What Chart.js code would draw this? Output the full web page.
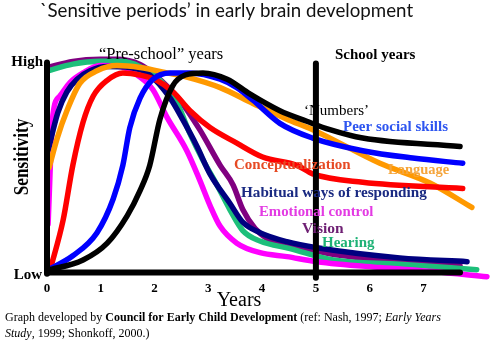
<!DOCTYPE html>
<html>
<head>
<meta charset="utf-8">
<script src="https://cdn.jsdelivr.net/npm/chart.js@4.4.0/dist/chart.umd.min.js"></script>
<style>
    html, body { margin: 0; padding: 0; background: #fff; }
    #wrap { width: 491px; height: 342px; position: relative; }
</style>
</head>
<body>
<div id="wrap"><canvas id="chart"></canvas></div>
<script>
// ===== data (years, sensitivity 0 = Low .. 100 = High) =====
const xTicks = [0, 1, 2, 3, 4, 5, 6, 7];

const numbersX = [0, 0.67, 1.12, 1.49, 1.73, 1.91, 2.1, 2.34, 2.57, 2.9, 3.35, 3.77, 4.33, 4.83, 5.26, 5.87, 7.68];
const numbersY = [1, 6, 14, 27, 39, 51, 73, 89, 94, 95, 92, 85, 77, 72, 68, 64, 60];

const peerX = [0, 0.48, 0.93, 1.23, 1.41, 1.54, 1.73, 1.97, 2.29, 2.66, 3.22, 3.53, 3.83, 4.33, 4.94, 5.87, 6.8, 7.73];
const peerY = [1, 8, 19, 35, 51, 69, 83, 92, 95, 95, 92, 88, 82, 71, 64, 58, 54.5, 52];

const languageX = [0.04, 0.19, 0.37, 0.61, 0.93, 1.3, 1.73, 2.23, 2.6, 3.22, 3.83, 4.46, 4.94, 6.19, 7.12, 7.9];
const languageY = [50, 64, 77, 90, 96, 98.5, 97.6, 95, 93, 88, 80.5, 73, 68, 52, 42.6, 31];

const conceptX = [0.05, 0.3, 0.48, 0.67, 0.86, 1.12, 1.41, 1.73, 2.04, 2.34, 2.66, 3.03, 3.53, 4.01, 4.65, 4.94, 5.87, 7.73];
const conceptY = [0.5, 25, 51, 71.5, 84, 91.5, 95, 94, 91.5, 86, 77, 69, 61.6, 55, 51, 47, 43, 40];

const habitualX = [0.02, 0.2, 0.37, 0.56, 0.8, 1.12, 1.54, 1.91, 2.29, 2.53, 2.79, 3.03, 3.4, 3.64, 3.96, 4.46, 5.02, 6.56, 7.81];
const habitualY = [58, 76, 86, 92, 96, 98, 97.6, 94, 83, 72.5, 60, 47, 33, 24, 19, 14.7, 11.8, 7, 5.2];

const emotionX = [0.02, 0.11, 0.24, 0.43, 0.67, 0.99, 1.36, 1.73, 1.97, 2.23, 2.6, 2.84, 3.03, 3.22, 3.53, 3.96, 4.46, 5.02, 6.19, 7.17, 8.18];
const emotionY = [23, 75, 84, 90.5, 95, 98.5, 98, 93, 87, 74, 58, 44, 32, 22, 14, 9.5, 7.6, 5.2, 2.4, 0.5, -2];

const visionX = [0.02, 0.48, 0.99, 1.3, 1.73, 2.1, 2.47, 2.84, 3.22, 3.46, 3.64, 3.87, 4.14, 4.76, 5.26, 6.56, 7.68];
const visionY = [97.6, 100.5, 101.5, 101.5, 99, 92, 82, 68, 51, 41.7, 30, 21, 15.6, 11.8, 9, 5.2, 3.3];

const hearingX = [0.02, 0.48, 0.99, 1.36, 1.73, 2.1, 2.42, 2.66, 2.9, 3.16, 3.4, 3.64, 3.96, 4.52, 5.32, 6.56, 7.99];
const hearingY = [96, 99.2, 100.5, 100.5, 98, 91.5, 80.5, 66, 53.5, 41.7, 30, 20, 15, 11.4, 6, 4, 1.4];

// axes drawn as lines: [x0, x1], [y0, y1]
const baseLineX = [0, 7.68];
const baseLineY = [0, 0];
const sensAxisX = [0, 0];
const sensAxisY = [-0.5, 100];
const schoolX = [5, 5];
const schoolY = [-2.5, 99.5];

function pts(xs, ys) {
    return xs.map((x, i) => ({ x: x, y: ys[i] }));
}

function curve(label, xs, ys, color) {
    return {
        label: label,
        data: pts(xs, ys),
        borderColor: color,
        borderWidth: 5.5,
        pointRadius: 0,
        fill: false,
        cubicInterpolationMode: 'monotone',
        borderCapStyle: 'round',
        borderJoinStyle: 'round',
        clip: false
    };
}

function axisLine(label, xs, ys) {
    return {
        label: label,
        data: pts(xs, ys),
        borderColor: '#000',
        borderWidth: 6,
        pointRadius: 0,
        fill: false,
        tension: 0,
        borderCapStyle: 'round',
        clip: false
    };
}

const SERIF = '"Liberation Serif", "Times New Roman", serif';

// texts drawn on top of the plot
const overlayText = {
    id: 'overlayText',
    afterDraw(chart) {
        const ctx = chart.ctx;
        const xs = chart.scales.x;
        ctx.save();
        ctx.textBaseline = 'middle';

        // title
        ctx.fillStyle = '#111';
        ctx.font = '18.7px Lato, "Open Sans", sans-serif';
        ctx.textAlign = 'left';
        ctx.fillText('`Sensitive periods\u2019 in early brain development', 40, 11);

        // period headers
        ctx.fillStyle = '#000';
        ctx.font = '16.5px ' + SERIF;
        ctx.fillText('\u201cPre-school\u201d years', 99, 55);
        ctx.font = 'bold 15px ' + SERIF;
        ctx.fillText('School years', 335, 55);

        // High / Low
        ctx.font = 'bold 15px ' + SERIF;
        ctx.textAlign = 'right';
        ctx.fillText('High', 43, 62);
        ctx.fillText('Low', 42, 275);

        // y title (condensed)
        ctx.save();
        ctx.translate(23, 157);
        ctx.rotate(-Math.PI / 2);
        ctx.scale(0.82, 1);
        ctx.textAlign = 'center';
        ctx.font = 'bold 21px ' + SERIF;
        ctx.fillText('Sensitivity', 0, 0);
        ctx.restore();

        // x ticks
        ctx.textAlign = 'center';
        ctx.font = 'bold 13px ' + SERIF;
        xTicks.forEach(t => ctx.fillText(String(t), xs.getPixelForValue(t), 289));
        ctx.font = '20px ' + SERIF;
        ctx.fillText('Years', 239, 301);

        // curve labels
        ctx.textAlign = 'left';
        const labels = [
            ['\u2018Numbers\u2019', '#000', 304, 111, '15px '],
            ['Peer social skills', '#2d55f0', 343, 127, 'bold 15px '],
            ['Conceptualization', '#e64a24', 234, 165, 'bold 15px '],
            ['Language', '#f5a53c', 388, 170, 'bold 14.5px '],
            ['Habitual ways of responding', '#1a2a82', 241, 193, 'bold 15.2px '],
            ['Emotional control', '#e33be3', 259, 212, 'bold 14.8px '],
            ['Vision', '#6e1f73', 302, 229, 'bold 15.5px '],
            ['Hearing', '#1eb276', 322, 243, 'bold 15px ']
        ];
        labels.forEach(l => {
            ctx.fillStyle = l[1];
            ctx.font = l[4] + SERIF;
            ctx.fillText(l[0], l[2], l[3]);
        });

        // footnote
        ctx.fillStyle = '#000';
        let x = 5;
        const parts1 = [
            ['12px ', 'Graph developed by '],
            ['bold 12px ', 'Council for Early Child Development'],
            ['12px ', ' (ref: Nash, 1997; '],
            ['italic 12px ', 'Early Years']
        ];
        parts1.forEach(p => {
            ctx.font = p[0] + SERIF;
            ctx.fillText(p[1], x, 318);
            x += ctx.measureText(p[1]).width;
        });
        x = 5;
        const parts2 = [
            ['italic 12px ', 'Study'],
            ['12px ', ', 1999; Shonkoff, 2000.)']
        ];
        parts2.forEach(p => {
            ctx.font = p[0] + SERIF;
            ctx.fillText(p[1], x, 334);
            x += ctx.measureText(p[1]).width;
        });
        ctx.restore();
    }
};

new Chart(document.getElementById('chart'), {
    type: 'line',
    data: {
        datasets: [
            axisLine('school', schoolX, schoolY),
            axisLine('xaxis', baseLineX, baseLineY),
            axisLine('yaxis', sensAxisX, sensAxisY),
            curve('Numbers', numbersX, numbersY, '#000000'),
            curve('Peer social skills', peerX, peerY, '#0000ff'),
            curve('Conceptualization', conceptX, conceptY, '#ff0000'),
            curve('Language', languageX, languageY, '#ff9900'),
            curve('Habitual ways of responding', habitualX, habitualY, '#000080'),
            curve('Emotional control', emotionX, emotionY, '#ff00ff'),
            curve('Hearing', hearingX, hearingY, '#1dbf7a'),
            curve('Vision', visionX, visionY, '#800080')
        ]
    },
    options: {
        responsive: true,
        maintainAspectRatio: false,
        animation: false,
        layout: { padding: { left: 47, right: 3, top: 54, bottom: 61 } },
        plugins: { legend: { display: false }, tooltip: { enabled: false }, title: { display: false } },
        scales: {
            x: { type: 'linear', min: 0, max: 8.2, display: false },
            y: { type: 'linear', min: -4, max: 104, display: false }
        }
    },
    plugins: [overlayText]
});
</script>
</body>
</html>
